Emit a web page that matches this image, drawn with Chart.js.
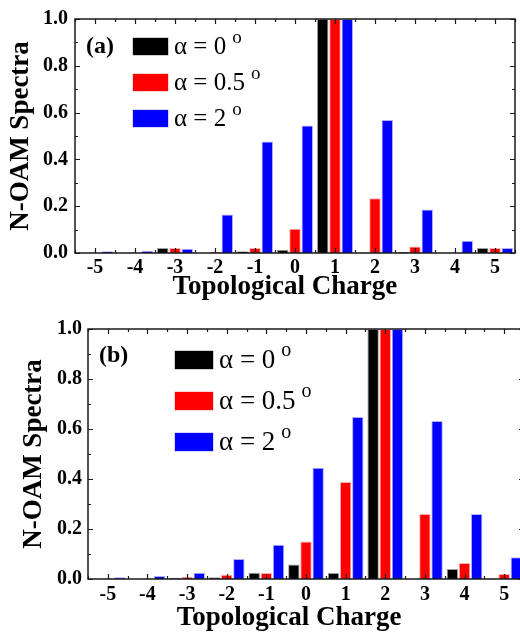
<!DOCTYPE html>
<html>
<head>
<meta charset="utf-8">
<script src="https://cdn.jsdelivr.net/npm/chart.js@4.4.0/dist/chart.umd.min.js"></script>
<style>
  html, body { margin: 0; padding: 0; background: #fff; overflow: hidden; }
  #wrap { position: relative; width: 520px; height: 635px; overflow: hidden; }
  canvas { position: absolute; left: 0; }
</style>
</head>
<body>
<div id="wrap">
  <canvas id="chartA" width="520" height="305" style="top:0"></canvas>
  <canvas id="chartB" width="530" height="325" style="top:310px"></canvas>
</div>
<script>
const charges = ['-5', '-4', '-3', '-2', '-1', '0', '1', '2', '3', '4', '5'];
const alphaLabels = ['α = 0', 'α = 0.5', 'α = 2'];
const barColors = ['#000000', '#ff0000', '#0000ff'];
const edgeColors = ['#a0a0a0', '#ffb0b0', '#b0b0ff'];

// panel (a)
const specA0 = [0, 0, 0.021, 0, 0.008, 0.014, 1, 0.002, 0.004, 0, 0.021];
const specA05 = [0.001, 0.002, 0.021, 0.004, 0.021, 0.104, 1, 0.234, 0.028, 0, 0.021];
const specA2 = [0.008, 0.01, 0.018, 0.165, 0.477, 0.545, 1, 0.568, 0.186, 0.052, 0.021];

// panel (b)
const specB0 = [0, 0, 0.005, 0.007, 0.025, 0.058, 0.024, 1, 0.001, 0.04, 0.002];
const specB05 = [0.003, 0.002, 0.009, 0.017, 0.024, 0.15, 0.388, 1, 0.26, 0.064, 0.02];
const specB2 = [0.007, 0.012, 0.025, 0.08, 0.137, 0.445, 0.648, 1, 0.632, 0.26, 0.087];

const SERIF = '"Liberation Serif", "Times New Roman", serif';

// box round the plot with inward ticks on all four sides
const framePlugin = {
  id: 'frame',
  afterDatasetsDraw(chart) {
    const { ctx, chartArea: a, scales: { x, y } } = chart;
    ctx.save();
    ctx.strokeStyle = '#1a1a1a';
    ctx.lineWidth = 1.2;
    ctx.beginPath();
    for (let i = -0.5; i <= charges.length - 0.5; i += 0.5) {
      const px = Math.round(x.getPixelForValue(i)) + 0.5;
      const len = Number.isInteger(i) ? 5 : 3;
      ctx.moveTo(px, a.bottom); ctx.lineTo(px, a.bottom - len);
      ctx.moveTo(px, a.top); ctx.lineTo(px, a.top + len);
    }
    for (let k = 0; k <= 10; k++) {
      const py = Math.round(y.getPixelForValue(k / 10)) + 0.5;
      const len = k % 2 === 0 ? 5 : 3;
      ctx.moveTo(a.left, py); ctx.lineTo(a.left + len, py);
      ctx.moveTo(a.right, py); ctx.lineTo(a.right - len, py);
    }
    ctx.stroke();
    ctx.lineWidth = 1.5;
    ctx.strokeRect(a.left, a.top, a.right - a.left, a.bottom - a.top);
    ctx.restore();
  },
};

// legend and panel tag drawn inside the plot
const insetPlugin = {
  id: 'inset',
  afterDraw(chart, args, opts) {
    const { ctx, chartArea: a } = chart;
    ctx.save();
    ctx.fillStyle = '#000';
    ctx.textBaseline = 'middle';
    ctx.font = `bold ${opts.tagSize}px ${SERIF}`;
    ctx.fillText(opts.tag, a.left + opts.tagX, a.top + opts.tagY);

    chart.data.datasets.forEach((ds, i) => {
      const bx = a.left + opts.boxX;
      const by = a.top + opts.boxY + i * opts.gap;
      ctx.fillStyle = ds.borderColor;
      ctx.fillRect(bx - 0.5, by - 0.5, opts.boxW + 1, opts.boxH + 1);
      ctx.fillStyle = ds.backgroundColor;
      ctx.fillRect(bx, by, opts.boxW, opts.boxH);
      ctx.fillStyle = '#000';
      ctx.font = `${opts.size}px ${SERIF}`;
      const tx = bx + opts.boxW + 6;
      const ty = by + opts.boxH / 2 + 1;
      ctx.fillText(ds.label, tx, ty);
      const w = ctx.measureText(ds.label).width;
      ctx.font = `${opts.supSize}px ${SERIF}`;
      ctx.fillText('o', tx + w + 6, ty - opts.size * 0.38);
    });
    ctx.restore();
  },
};

function buildChart(id, series, look) {
  return new Chart(document.getElementById(id), {
    type: 'bar',
    data: {
      labels: charges,
      datasets: series.map((vals, i) => ({
        label: alphaLabels[i],
        data: vals,
        backgroundColor: barColors[i],
        borderColor: edgeColors[i],
        borderWidth: 1,
        borderSkipped: 'bottom',
        categoryPercentage: 0.92,
        barPercentage: 0.94,
      })),
    },
    options: {
      responsive: false,
      animation: false,
      layout: { padding: { left: 0, right: look.padRight, top: look.padTop, bottom: 0 } },
      plugins: {
        legend: { display: false },
        tooltip: { enabled: false },
        inset: look.inset,
      },
      scales: {
        x: {
          grid: { display: false, drawTicks: false },
          border: { display: false },
          ticks: {
            color: '#000',
            padding: look.xTickPad,
            font: { family: SERIF, size: 20, weight: 'bold' },
          },
          title: {
            display: true,
            // trailing spaces nudge the centred title a little left, as in the figure
            text: 'Topological Charge' + ' '.repeat(look.xTitleShift),
            color: '#000',
            padding: { top: 0, bottom: look.xTitlePad },
            font: { family: SERIF, size: 27, weight: 'bold' },
          },
          afterFit: (s) => { s.height = look.xHeight; },
        },
        y: {
          min: 0,
          max: 1,
          grid: { display: false, drawTicks: false },
          border: { display: false },
          ticks: {
            stepSize: 0.2,
            color: '#000',
            padding: look.yTickPad,
            font: { family: SERIF, size: 20, weight: 'bold' },
            callback: (v) => v.toFixed(1),
          },
          title: {
            display: true,
            text: 'N-OAM Spectra',
            color: '#000',
            padding: { top: look.yTitlePad, bottom: 0 },
            font: { family: SERIF, size: 27, weight: 'bold' },
          },
          afterFit: (s) => { s.width = look.yWidth; },
        },
      },
    },
    plugins: [framePlugin, insetPlugin],
  });
}

buildChart('chartA', [specA0, specA05, specA2], {
  padRight: 5, padTop: 15, xHeight: 52, yWidth: 75,
  xTickPad: 3, xTitlePad: 2, xTitleShift: 3, yTickPad: 7, yTitlePad: 5,
  inset: { tag: '(a)', tagSize: 24, tagX: 11, tagY: 28,
    boxX: 58, boxY: 19, boxW: 35, boxH: 17, gap: 36, size: 25, supSize: 19 },
});

buildChart('chartB', [specB0, specB05, specB2], {
  padRight: 6, padTop: 19, xHeight: 56, yWidth: 88,
  xTickPad: 4, xTitlePad: 1, xTitleShift: 5, yTickPad: 6, yTitlePad: 18,
  inset: { tag: '(b)', tagSize: 24, tagX: 11, tagY: 27,
    boxX: 87, boxY: 22, boxW: 38, boxH: 18, gap: 41, size: 27, supSize: 20 },
});
</script>
</body>
</html>
